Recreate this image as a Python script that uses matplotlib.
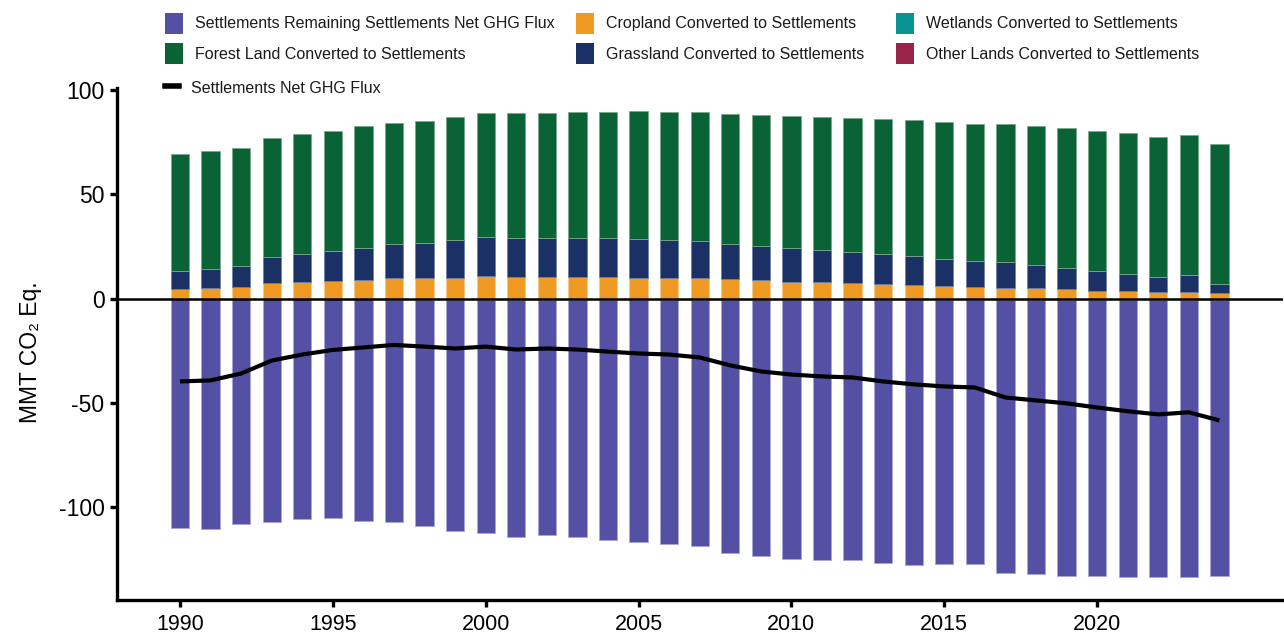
import matplotlib
matplotlib.use("Agg")
import matplotlib.pyplot as plt
from matplotlib.patches import Patch
from matplotlib.lines import Line2D
import numpy as np

plt.rcParams['font.family'] = ['Liberation Sans', 'DejaVu Sans']

years = list(range(1990, 2025))

# MMT CO2 Eq. by land-use category
settlements_remaining = [-109.6, -110.1, -107.8, -106.9, -105.3, -105.0, -106.0, -106.7,
                         -108.6, -111.0, -111.8, -113.6, -112.9, -113.9, -114.9, -116.3,
                         -116.9, -118.2, -121.3, -123.0, -124.3, -124.8, -124.8, -126.2,
                         -127.0, -126.8, -126.5, -131.1, -131.6, -132.3, -132.3, -133.1,
                         -133.1, -133.1, -132.3]
other_lands = [-0.2, -0.2, -0.2, -0.3, -0.3, -0.3, -0.3, -0.4, -0.4, -0.5, -0.5, -0.5,
               -0.5, -0.5, -0.5, -0.5, -0.5, -0.5, -0.5, -0.5, -0.5, -0.5, -0.5, -0.5,
               -0.5, -0.5, -0.5, -0.5, -0.5, -0.5, -0.5, -0.5, -0.5, -0.5, -0.5]
wetlands = [-0.1] * 35
cropland = [4.8, 5.3, 5.4, 7.5, 8.1, 8.5, 9.1, 9.7, 9.7, 10.0, 10.8, 10.5, 10.3, 10.2,
            10.2, 9.9, 9.9, 9.8, 9.3, 8.8, 8.2, 7.8, 7.5, 7.0, 6.7, 6.1, 5.7, 5.2, 4.9,
            4.5, 3.8, 3.8, 3.3, 3.1, 2.8]
grassland = [8.3, 9.1, 10.2, 12.7, 13.4, 14.5, 15.3, 16.3, 16.9, 18.0, 18.9, 18.8, 18.9,
             19.0, 18.7, 18.5, 18.2, 17.6, 17.0, 16.4, 15.9, 15.3, 14.8, 14.4, 13.9, 12.9,
             12.2, 12.2, 11.2, 10.3, 9.3, 8.0, 6.9, 8.0, 4.2]
forest = [56.4, 56.3, 56.6, 56.8, 57.5, 57.4, 58.4, 58.2, 58.6, 59.1, 59.3, 59.7, 59.9,
          60.4, 60.7, 61.6, 61.5, 62.1, 62.4, 62.8, 63.3, 64.0, 64.3, 64.9, 65.0, 65.5,
          65.8, 66.3, 66.8, 67.0, 67.3, 67.5, 67.3, 67.5, 67.3]
net_flux = [-39.7, -39.2, -35.9, -29.7, -26.8, -24.6, -23.4, -22.2, -23.0, -23.9, -23.0,
            -24.4, -23.9, -24.4, -25.4, -26.3, -26.8, -28.2, -32.0, -34.9, -36.4, -37.3,
            -37.8, -39.7, -41.1, -42.1, -42.6, -47.4, -48.8, -50.2, -52.2, -54.0, -55.5,
            -54.5, -58.4]

yticks = [100, 50, 0, -50, -100]
xticks = [1990, 1995, 2000, 2005, 2010, 2015, 2020]

c_purple = '#5450a4'
c_orange = '#ef9a22'
c_teal = '#0a9393'
c_green = '#0a6334'
c_navy = '#1b3166'
c_maroon = '#9a2449'

fig = plt.figure(figsize=(12.84, 6.33), dpi=100)
ax = fig.add_axes([117 / 1284, 1 - 600 / 633, (1283 - 117) / 1284, (600 - 88) / 633])

x = np.array(years)
w = 0.6
crop = np.array(cropland)
grass = np.array(grassland)
fore = np.array(forest)
oth = np.array(other_lands)
wet = np.array(wetlands)
rem = np.array(settlements_remaining)

bar_kw = dict(width=w, linewidth=0.6, zorder=2)
ax.bar(x, crop, color=c_orange, edgecolor='#f6c98a', **bar_kw)
ax.bar(x, grass, bottom=crop, color=c_navy, edgecolor='#6f7fa6', **bar_kw)
ax.bar(x, fore, bottom=crop + grass, color=c_green, edgecolor='#7aa88c', **bar_kw)
ax.bar(x, oth, color=c_maroon, edgecolor=c_maroon, **bar_kw)
ax.bar(x, wet, bottom=oth, color=c_teal, edgecolor=c_teal, **bar_kw)
ax.bar(x, rem, bottom=oth + wet, color=c_purple, edgecolor='#a9a6d6', **bar_kw)

ax.axhline(0, color='black', linewidth=1.8, zorder=3)
ax.plot(x, net_flux, color='black', linewidth=3.0, solid_capstyle='butt', zorder=4)

ax.set_xlim(1987.94, 2026.08)
ax.set_ylim(-144.5, 101)
ax.set_yticks(yticks)
ax.set_yticklabels([str(v) for v in yticks])
ax.set_xticks(xticks)

for side in ('top', 'right'):
    ax.spines[side].set_visible(False)
for side in ('left', 'bottom'):
    ax.spines[side].set_linewidth(2.4)
ax.tick_params(axis='y', direction='out', length=5, width=2.4, labelsize=16.5,
               colors='black', pad=4)
ax.tick_params(axis='x', direction='out', length=5, width=2.4, labelsize=15.5,
               colors='black', pad=5)
ax.set_ylabel('MMT CO₂ Eq.', fontsize=16.5)
ax.yaxis.set_label_coords(-0.0643, 0.484)

leg_kw = dict(frameon=False, fontsize=11.5, handlelength=1.15, handleheight=1.6,
              handletextpad=0.75, labelspacing=0.62, borderpad=0, borderaxespad=0,
              loc='upper left', labelcolor='#1a1a1a')

col1 = [Patch(facecolor=c_purple, label='Settlements Remaining Settlements Net GHG Flux'),
        Patch(facecolor=c_green, label='Forest Land Converted to Settlements')]
col2 = [Patch(facecolor=c_orange, label='Cropland Converted to Settlements'),
        Patch(facecolor=c_navy, label='Grassland Converted to Settlements')]
col3 = [Patch(facecolor=c_teal, label='Wetlands Converted to Settlements'),
        Patch(facecolor=c_maroon, label='Other Lands Converted to Settlements')]
line_h = [Line2D([0], [0], color='black', linewidth=4, label='Settlements Net GHG Flux')]

fig.legend(handles=col1, bbox_to_anchor=(165 / 1284, 1 - 13 / 633), **leg_kw)
fig.legend(handles=col2, bbox_to_anchor=(576 / 1284, 1 - 13 / 633), **leg_kw)
fig.legend(handles=col3, bbox_to_anchor=(896 / 1284, 1 - 13 / 633), **leg_kw)
lk = dict(leg_kw)
lk['handlelength'] = 0.9
fig.legend(handles=line_h, bbox_to_anchor=(165 / 1284, 1 - 78 / 633), **lk)

fig.savefig('out.png', dpi=100)
